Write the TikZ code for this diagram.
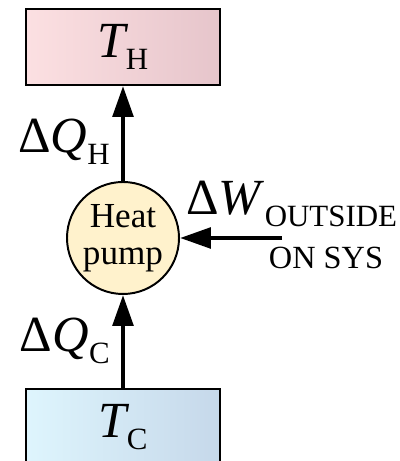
\documentclass[tikz,border=0pt]{standalone}
\usepackage{fontspec}
\setmainfont{Liberation Serif}
\usetikzlibrary{arrows.meta, positioning}
\definecolor{hotL}{RGB}{252,224,226}
\definecolor{hotR}{RGB}{230,197,203}
\definecolor{coldL}{RGB}{222,245,253}
\definecolor{coldR}{RGB}{198,216,234}
\definecolor{pumpfill}{RGB}{255,242,204}
% big symbol with a lowered upright subscript
\newcommand{\symsub}[3][0pt]{{\fontsize{36}{42}\selectfont #2}\kern#1{\fontsize{22}{26}\selectfont\raisebox{-8pt}{#3}}}

\begin{document}
\begin{tikzpicture}[
    reservoir/.style={draw, line width=1.4pt, minimum width=4.85cm, minimum height=1.9cm, inner sep=0pt},
    flow/.style={-{Triangle[length=22pt, width=14.5pt]}, line width=3.2pt},
  ]
  \clip (0,0) rectangle (10,11.525);
  % Reservoirs
  \node[reservoir, left color=hotL, right color=hotR] (hot) at (3.075,10.35) {\symsub[-2pt]{\textit{T}}{H}};
  \node[reservoir, left color=coldL, right color=coldR] (cold) at (3.075,0.85) {\symsub[-2pt]{\textit{T}}{C}};
  % Heat pump
  \node[draw, circle, line width=1.4pt, fill=pumpfill, minimum size=2.8cm, inner sep=0pt,
        align=center, font=\fontsize{25}{26}\selectfont] (pump) at (3.075,5.575) {Heat\\pump};
  % Heat flows
  \draw[flow] (pump) -- (hot);
  \draw[flow] (cold) -- (pump);
  % Work done on the system
  \coordinate (win) at (7.05,5.575);
  \draw[flow] (win) -- (pump);
  % Labels
  \node[anchor=base east, inner sep=0pt] (qh) at (2.75,7.7) {\symsub{Δ\textit{Q}}{H}};
  \node[anchor=base east, inner sep=0pt] (qc) at (2.75,2.73) {\symsub{Δ\textit{Q}}{C}};
  \node[anchor=base west, inner sep=0pt] (w) at (4.65,6.15) {\symsub{Δ\textit{W}}{OUTSIDE}};
  \node[anchor=base, inner sep=0pt, font=\fontsize{23}{27}\selectfont] (sys) at (8.15,4.82) {ON SYS};
\end{tikzpicture}
\end{document}
